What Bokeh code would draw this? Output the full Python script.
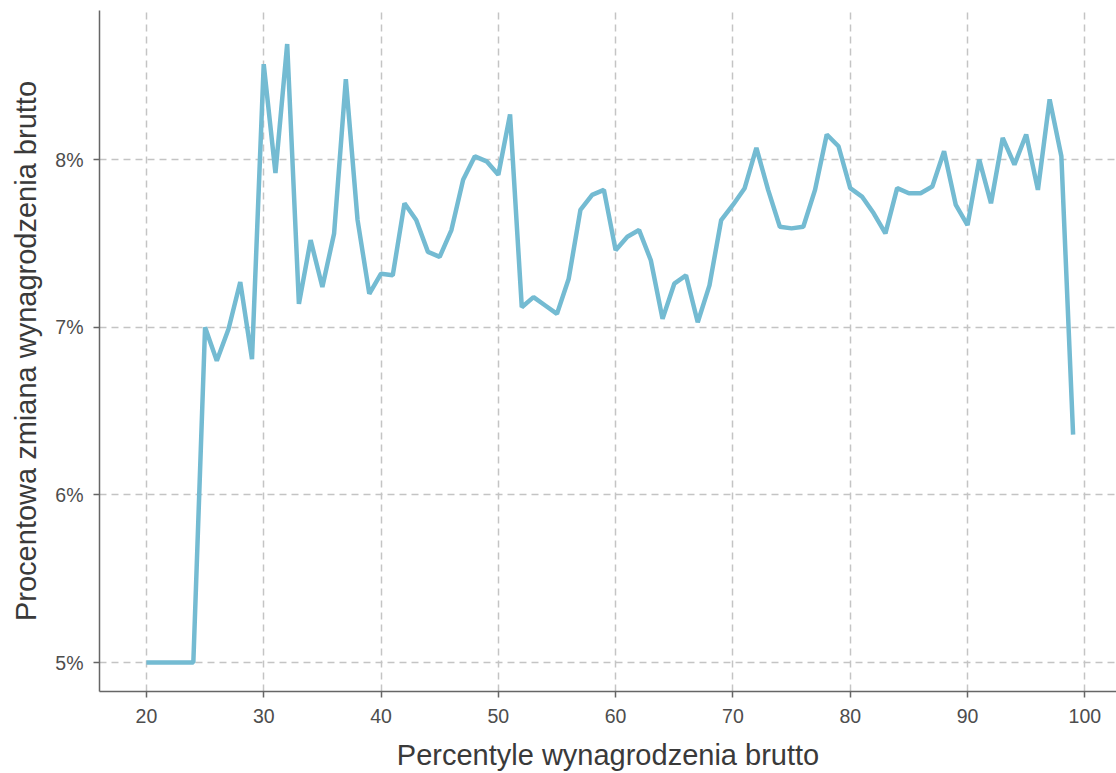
from bokeh.plotting import figure
from bokeh.models import ColumnDataSource, FixedTicker, PrintfTickFormatter, Range1d
from bokeh.embed import file_html
from bokeh.resources import INLINE

percentiles = list(range(20, 100))
pct_change = [
    5.00, 5.00, 5.00, 5.00, 5.00,            # 20-24
    7.00, 6.80, 6.99, 7.27, 6.81,            # 25-29
    8.57, 7.92, 8.69, 7.14, 7.52,            # 30-34
    7.24, 7.56, 8.48, 7.64, 7.20,            # 35-39
    7.32, 7.31, 7.74, 7.64, 7.45,            # 40-44
    7.42, 7.58, 7.88, 8.02, 7.99,            # 45-49
    7.91, 8.27, 7.12, 7.18, 7.13,            # 50-54
    7.08, 7.29, 7.70, 7.79, 7.82,            # 55-59
    7.46, 7.54, 7.58, 7.40, 7.05,            # 60-64
    7.26, 7.31, 7.03, 7.25, 7.64,            # 65-69
    7.73, 7.83, 8.07, 7.82, 7.60,            # 70-74
    7.59, 7.60, 7.82, 8.15, 8.08,            # 75-79
    7.83, 7.78, 7.68, 7.56, 7.83,            # 80-84
    7.80, 7.80, 7.84, 8.05, 7.73,            # 85-89
    7.61, 8.00, 7.74, 8.13, 7.97,            # 90-94
    8.15, 7.82, 8.36, 8.02, 6.36,            # 95-99
]
x_ticks = [20, 30, 40, 50, 60, 70, 80, 90, 100]
y_ticks = [5, 6, 7, 8]

src = ColumnDataSource(data=dict(x=percentiles, y=pct_change))

p = figure(width=1116, height=773, output_backend="svg", toolbar_location=None,
           x_range=Range1d(16.0, 102.7), y_range=Range1d(4.827, 8.89),
           min_border_left=99, min_border_right=0, min_border_top=10, min_border_bottom=82)
p.outline_line_color = None
p.background_fill_color = "white"

p.line("x", "y", source=src, line_color="#74BBD2", line_width=4.5)

font = "Liberation Sans"
for ax in (p.xaxis[0], p.yaxis[0]):
    ax.axis_line_color = "#666666"
    ax.axis_line_width = 1.5
    ax.major_tick_line_color = "#666666"
    ax.major_tick_line_width = 1.5
    ax.major_tick_out = 6
    ax.major_tick_in = 0
    ax.minor_tick_line_color = None
    ax.major_label_text_font = font
    ax.major_label_text_font_size = "19.5px"
    ax.major_label_text_color = "#4d4d4d"
    ax.axis_label_text_font = font
    ax.axis_label_text_font_size = "29px"
    ax.axis_label_text_font_style = "normal"
    ax.axis_label_text_color = "#3a3a3a"

p.xaxis.major_label_standoff = 11
p.yaxis.major_label_standoff = 10
p.xaxis.ticker = FixedTicker(ticks=x_ticks)
p.yaxis.ticker = FixedTicker(ticks=y_ticks)
p.yaxis.formatter = PrintfTickFormatter(format="%d%%")
p.xaxis.axis_label = "Percentyle wynagrodzenia brutto"
p.yaxis.axis_label = "Procentowa zmiana wynagrodzenia brutto"
p.xaxis.axis_label_standoff = 13
p.yaxis.axis_label_standoff = 10

for g in (p.xgrid[0], p.ygrid[0]):
    g.grid_line_color = "#c4c4c4"
    g.grid_line_dash = "7 5"
    g.grid_line_width = 1.5

open("out.html", "w").write(file_html(p, INLINE))
